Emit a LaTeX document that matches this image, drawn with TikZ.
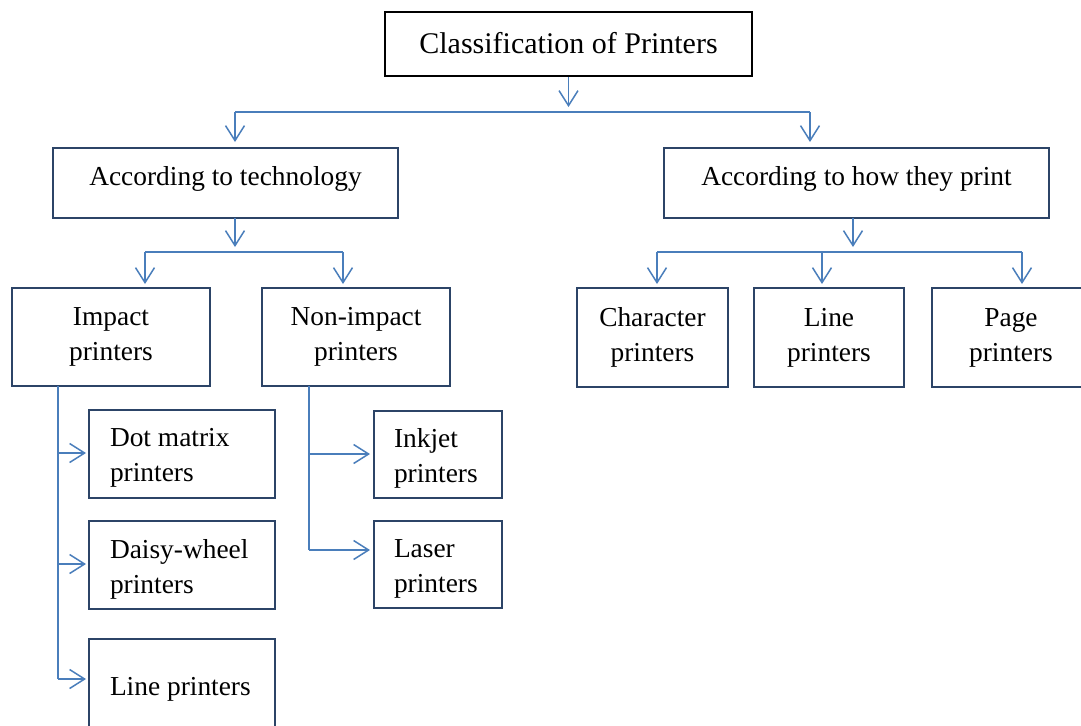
\documentclass[tikz,border=0pt]{standalone}
\usepackage{fontspec}
\setmainfont{Liberation Serif}
\usetikzlibrary{arrows.meta}
\definecolor{boxc}{HTML}{2C4467}
\definecolor{arrc}{HTML}{4A7EBB}
\newcommand\shiftedtext[2]{\raisebox{#1}[\height][\depth]{#2}}
\newcommand\lefttext[2]{\raisebox{-2pt}[\height][\depth]{\parbox{#1}{\raggedright #2}}}
\begin{document}
\begin{tikzpicture}[x=0.5pt,y=-0.5pt,
  every node/.style={font=\fontsize{13.7}{17.5}\selectfont},
  box/.style={draw=boxc,line width=1pt,rectangle,align=center,inner sep=0pt},
  lbox/.style={draw=boxc,line width=1pt,rectangle,inner ysep=0pt},
  conn/.style={draw=arrc,line width=0.75pt},
  arr/.style={conn,-{Straight Barb[length=7.5pt,width=9.5pt,line width=0.75pt]}},
]
\useasboundingbox (0,0) rectangle (1081,725);
\clip (0,0) rectangle (1081,725);
% nodes
\node[box,draw=black,line width=1.2pt,minimum width=183.5pt,minimum height=32pt,font=\fontsize{15}{18}\selectfont] (top) at (568.5,44) {\shiftedtext{0.6pt}{Classification of Printers}};
\node[box,minimum width=172.5pt,minimum height=35pt] (tech) at (225.5,183) {\shiftedtext{2pt}{According to technology}};
\node[box,minimum width=192.5pt,minimum height=35pt] (how) at (856.5,183) {\shiftedtext{2pt}{According to how they print}};
\node[box,minimum width=99pt,minimum height=49pt] (imp) at (111,337) {Impact\\printers};
\node[box,minimum width=94pt,minimum height=49pt] (nimp) at (356,337) {Non-impact\\printers};
\node[box,minimum width=75.5pt,minimum height=49.5pt] (chr) at (652.5,337.5) {Character\\printers};
\node[box,minimum width=75pt,minimum height=49.5pt] (lin) at (829,337.5) {Line\\printers};
\node[box,minimum width=79pt,minimum height=49.5pt] (pag) at (1011,337.5) {Page\\printers};
\node[lbox,inner xsep=10.5pt,minimum width=93pt,minimum height=44pt] (dot) at (182,454) {\lefttext{72pt}{Dot matrix\\printers}};
\node[lbox,inner xsep=10.5pt,minimum width=93pt,minimum height=44pt] (dai) at (182,565) {\lefttext{72pt}{Daisy-wheel\\printers}};
\node[lbox,inner xsep=10.5pt,minimum width=93pt,minimum height=46pt] (lpr) at (182,685) {\lefttext{72pt}{Line printers}};
\node[lbox,inner xsep=10pt,minimum width=64pt,minimum height=43.5pt] (ink) at (438,454.5) {\lefttext{44pt}{Inkjet\\printers}};
\node[lbox,inner xsep=10pt,minimum width=64pt,minimum height=43.5pt] (las) at (438,564.5) {\lefttext{44pt}{Laser\\printers}};
% junction coordinates
\coordinate (b1) at (568.5,112);
\coordinate (b1l) at (235,112);
\coordinate (b1r) at (810,112);
\coordinate (t0) at (235,218);
\coordinate (b2) at (235,252);
\coordinate (b2l) at (145,252);
\coordinate (b2r) at (343,252);
\coordinate (h0) at (853,218);
\coordinate (b3) at (853,252);
\coordinate (b3l) at (657,252);
\coordinate (b3m) at (822,252);
\coordinate (b3r) at (1022,252);
\coordinate (v1) at (58,386);
\coordinate (v1a) at (58,453);
\coordinate (v1b) at (58,564);
\coordinate (v1c) at (58,679);
\coordinate (v2) at (309,386);
\coordinate (v2a) at (309,454);
\coordinate (v2b) at (309,550);
% level 1
\draw[arr,shorten >=2.5pt] (top.south) -- (b1);
\draw[conn] (b1l) -- (b1r);
\draw[arr,shorten >=2.5pt] (b1l) -- (b1l |- tech.north);
\draw[arr,shorten >=2.5pt] (b1r) -- (b1r |- how.north);
% level 2 left
\draw[arr,shorten >=2.5pt] (t0) -- (b2);
\draw[conn] (b2l) -- (b2r);
\draw[arr,shorten >=1.5pt] (b2l) -- (b2l |- imp.north);
\draw[arr,shorten >=1.5pt] (b2r) -- (b2r |- nimp.north);
% level 2 right
\draw[arr,shorten >=2.5pt] (h0) -- (b3);
\draw[conn] (b3l) -- (b3r);
\draw[arr,shorten >=1.5pt] (b3l) -- (b3l |- chr.north);
\draw[arr,shorten >=1.5pt] (b3m) -- (b3m |- lin.north);
\draw[arr,shorten >=1.5pt] (b3r) -- (b3r |- pag.north);
% impact children
\draw[conn] (v1) -- (v1c);
\draw[arr,shorten >=1pt] (v1a) -- (v1a -| dot.west);
\draw[arr,shorten >=1pt] (v1b) -- (v1b -| dai.west);
\draw[arr,shorten >=1pt] (v1c) -- (v1c -| lpr.west);
% non-impact children
\draw[conn] (v2) -- (v2b);
\draw[arr,shorten >=1.5pt] (v2a) -- (v2a -| ink.west);
\draw[arr,shorten >=1.5pt] (v2b) -- (v2b -| las.west);
\end{tikzpicture}
\end{document}
